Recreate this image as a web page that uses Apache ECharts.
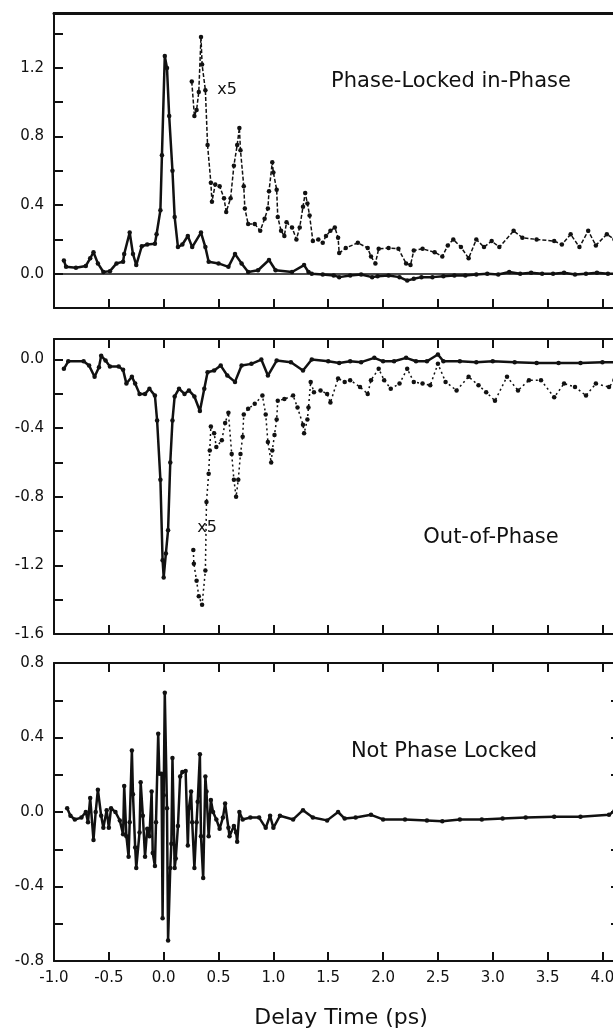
<!DOCTYPE html>
<html>
<head>
<meta charset="utf-8">
<script src="https://cdn.jsdelivr.net/npm/echarts@6/dist/echarts.min.js"></script>
<style>html,body{margin:0;padding:0;background:#fff}#c{width:613px;height:1030px}</style>
</head>
<body>
<div id="c"></div>
<script>
// ---- data (delay time ps, signal) ----
const topMain = [[-0.91,0.077],[-0.89,0.04],[-0.80,0.035],[-0.71,0.045],[-0.67,0.09],[-0.64,0.125],[-0.60,0.06],[-0.55,0.01],[-0.49,0.015],[-0.43,0.06],[-0.37,0.07],[-0.36,0.115],[-0.31,0.24],[-0.28,0.115],[-0.25,0.05],[-0.20,0.16],[-0.15,0.17],[-0.08,0.175],[-0.065,0.23],[-0.03,0.37],[-0.016,0.69],[0.01,1.27],[0.03,1.20],[0.05,0.92],[0.08,0.60],[0.10,0.33],[0.13,0.155],[0.17,0.17],[0.22,0.22],[0.26,0.155],[0.34,0.24],[0.38,0.155],[0.41,0.07],[0.50,0.06],[0.59,0.04],[0.65,0.115],[0.71,0.06],[0.77,0.01],[0.86,0.02],[0.96,0.08],[1.02,0.02],[1.17,0.01],[1.28,0.05],[1.32,0.01],[1.35,0.0],[1.45,-0.005],[1.55,-0.01],[1.6,-0.02],[1.7,-0.01],[1.8,-0.005],[1.9,-0.02],[1.95,-0.015],[2.05,-0.01],[2.15,-0.02],[2.22,-0.04],[2.28,-0.03],[2.35,-0.02],[2.45,-0.02],[2.55,-0.015],[2.65,-0.01],[2.75,-0.01],[2.85,-0.005],[2.95,0.0],[3.05,-0.005],[3.15,0.01],[3.25,0.0],[3.35,0.005],[3.45,0.0],[3.55,0.0],[3.65,0.005],[3.75,-0.005],[3.85,0.0],[3.95,0.005],[4.05,0.0],[4.16,0.0]];
const topX5 = [[0.256,1.12],[0.28,0.92],[0.30,0.955],[0.32,1.06],[0.34,1.38],[0.35,1.22],[0.38,1.07],[0.40,0.75],[0.43,0.53],[0.44,0.42],[0.47,0.52],[0.51,0.51],[0.55,0.44],[0.57,0.36],[0.61,0.44],[0.64,0.63],[0.67,0.75],[0.69,0.85],[0.70,0.72],[0.73,0.51],[0.74,0.38],[0.77,0.29],[0.83,0.29],[0.88,0.25],[0.92,0.32],[0.95,0.38],[0.96,0.48],[0.99,0.65],[1.00,0.59],[1.03,0.49],[1.04,0.33],[1.07,0.25],[1.10,0.22],[1.12,0.30],[1.17,0.27],[1.21,0.20],[1.24,0.27],[1.27,0.39],[1.29,0.47],[1.31,0.41],[1.33,0.34],[1.36,0.19],[1.41,0.20],[1.45,0.18],[1.48,0.22],[1.52,0.25],[1.56,0.27],[1.59,0.21],[1.60,0.12],[1.66,0.15],[1.77,0.18],[1.86,0.15],[1.89,0.10],[1.93,0.06],[1.96,0.145],[2.05,0.15],[2.14,0.145],[2.21,0.06],[2.25,0.05],[2.28,0.135],[2.36,0.145],[2.47,0.125],[2.54,0.10],[2.59,0.165],[2.64,0.20],[2.71,0.155],[2.78,0.09],[2.85,0.20],[2.92,0.155],[2.99,0.19],[3.06,0.155],[3.19,0.25],[3.27,0.21],[3.40,0.20],[3.56,0.19],[3.63,0.17],[3.71,0.23],[3.79,0.155],[3.87,0.25],[3.94,0.165],[4.04,0.23],[4.11,0.20]];
const midMain = [[-0.91,-0.054],[-0.87,-0.01],[-0.73,-0.01],[-0.68,-0.035],[-0.63,-0.10],[-0.59,-0.045],[-0.57,0.023],[-0.53,-0.006],[-0.49,-0.04],[-0.41,-0.04],[-0.37,-0.06],[-0.34,-0.14],[-0.29,-0.10],[-0.26,-0.14],[-0.22,-0.20],[-0.17,-0.20],[-0.13,-0.17],[-0.08,-0.21],[-0.06,-0.355],[-0.03,-0.70],[-0.01,-1.17],[0.00,-1.27],[0.02,-1.13],[0.04,-0.995],[0.06,-0.60],[0.08,-0.355],[0.10,-0.215],[0.14,-0.17],[0.19,-0.20],[0.23,-0.18],[0.28,-0.215],[0.33,-0.30],[0.37,-0.17],[0.40,-0.074],[0.46,-0.064],[0.52,-0.035],[0.58,-0.093],[0.65,-0.13],[0.71,-0.035],[0.80,-0.025],[0.89,0.0],[0.95,-0.093],[1.03,-0.006],[1.16,-0.016],[1.27,-0.064],[1.35,0.0],[1.5,-0.01],[1.6,-0.02],[1.7,-0.01],[1.8,-0.015],[1.92,0.01],[2.0,-0.01],[2.1,-0.01],[2.21,0.01],[2.3,-0.01],[2.4,-0.01],[2.5,0.03],[2.55,-0.01],[2.7,-0.01],[2.85,-0.015],[3.0,-0.01],[3.2,-0.015],[3.4,-0.02],[3.6,-0.02],[3.8,-0.02],[4.0,-0.015],[4.16,-0.015]];
const midX5 = [[0.27,-1.11],[0.275,-1.19],[0.30,-1.29],[0.32,-1.38],[0.35,-1.43],[0.38,-1.23],[0.39,-0.83],[0.41,-0.665],[0.42,-0.53],[0.43,-0.39],[0.46,-0.43],[0.48,-0.51],[0.53,-0.47],[0.56,-0.37],[0.59,-0.31],[0.62,-0.55],[0.64,-0.70],[0.66,-0.80],[0.68,-0.70],[0.70,-0.55],[0.72,-0.45],[0.73,-0.32],[0.77,-0.287],[0.83,-0.258],[0.90,-0.21],[0.93,-0.32],[0.95,-0.48],[0.98,-0.60],[0.99,-0.53],[1.01,-0.44],[1.03,-0.35],[1.04,-0.24],[1.10,-0.23],[1.18,-0.21],[1.22,-0.28],[1.27,-0.38],[1.28,-0.43],[1.31,-0.35],[1.32,-0.28],[1.34,-0.13],[1.37,-0.19],[1.43,-0.18],[1.49,-0.20],[1.52,-0.25],[1.59,-0.11],[1.65,-0.13],[1.70,-0.12],[1.79,-0.16],[1.86,-0.20],[1.89,-0.12],[1.96,-0.054],[2.01,-0.12],[2.07,-0.17],[2.15,-0.14],[2.22,-0.054],[2.28,-0.13],[2.36,-0.14],[2.43,-0.15],[2.50,-0.025],[2.57,-0.13],[2.67,-0.18],[2.78,-0.10],[2.87,-0.15],[2.94,-0.19],[3.02,-0.24],[3.13,-0.10],[3.23,-0.18],[3.33,-0.12],[3.44,-0.12],[3.56,-0.22],[3.65,-0.14],[3.75,-0.16],[3.85,-0.21],[3.94,-0.14],[4.06,-0.16],[4.11,-0.12]];
const botMain = [[-0.88,0.02],[-0.85,-0.02],[-0.81,-0.04],[-0.75,-0.03],[-0.71,0.0],[-0.69,-0.055],[-0.67,0.075],[-0.64,-0.15],[-0.62,0.0],[-0.60,0.12],[-0.57,-0.02],[-0.55,-0.085],[-0.52,0.01],[-0.50,-0.085],[-0.48,0.02],[-0.44,0.0],[-0.40,-0.045],[-0.37,-0.12],[-0.36,0.14],[-0.34,-0.13],[-0.32,-0.24],[-0.31,-0.055],[-0.29,0.33],[-0.28,0.095],[-0.26,-0.19],[-0.25,-0.30],[-0.22,-0.11],[-0.21,0.16],[-0.19,-0.02],[-0.17,-0.24],[-0.15,-0.09],[-0.13,-0.13],[-0.11,0.11],[-0.10,-0.22],[-0.08,-0.29],[-0.07,-0.055],[-0.05,0.42],[-0.04,0.205],[-0.02,0.205],[-0.01,-0.57],[0.00,0.09],[0.01,0.64],[0.03,0.02],[0.04,-0.69],[0.06,-0.30],[0.07,-0.17],[0.08,0.29],[0.10,-0.30],[0.11,-0.25],[0.13,-0.075],[0.15,0.19],[0.17,0.215],[0.20,0.22],[0.22,-0.18],[0.23,0.02],[0.25,0.11],[0.26,-0.055],[0.28,-0.30],[0.30,-0.055],[0.31,0.055],[0.33,0.31],[0.34,-0.13],[0.36,-0.355],[0.38,0.19],[0.39,0.11],[0.41,-0.13],[0.43,0.065],[0.45,0.0],[0.48,-0.04],[0.51,-0.09],[0.54,-0.03],[0.56,0.045],[0.59,-0.085],[0.60,-0.13],[0.64,-0.075],[0.66,-0.11],[0.67,-0.16],[0.69,0.0],[0.72,-0.04],[0.79,-0.03],[0.87,-0.03],[0.93,-0.085],[0.97,-0.02],[1.00,-0.085],[1.06,-0.02],[1.18,-0.04],[1.27,0.01],[1.36,-0.03],[1.49,-0.045],[1.59,0.0],[1.65,-0.035],[1.75,-0.03],[1.89,-0.015],[2.00,-0.04],[2.2,-0.04],[2.4,-0.045],[2.54,-0.05],[2.7,-0.04],[2.9,-0.04],[3.09,-0.035],[3.3,-0.03],[3.56,-0.025],[3.8,-0.025],[4.06,-0.015],[4.11,0.005]];
const xTicks = { min: -1.0, max: 4.16, step: 0.5 };
const panelY = [{min:-0.2,max:1.52},{min:-1.6,max:0.12},{min:-0.8,max:0.8}];
const labelStep = 0.4, tickStep = 0.2;

const FONT = 'DejaVu Sans';
const INK = '#111';
const grids = [
  {left:54, top:13, width:566, height:295, outerBoundsMode:'none', containLabel:false},
  {left:54, top:339, width:566, height:295, outerBoundsMode:'none', containLabel:false},
  {left:54, top:663, width:566, height:298, outerBoundsMode:'none', containLabel:false}
];
function isMult(v, s){ return Math.abs(v/s - Math.round(v/s)) < 1e-6; }
const xAxes = [];
for (let i=0;i<3;i++){
  xAxes.push({type:'value', gridIndex:i, position:'bottom', min:xTicks.min, max:xTicks.max, interval:xTicks.step,
    axisLine:{show:true, onZero:false, lineStyle:{color:INK, width:2}},
    axisTick:{show:true, inside:true, length:9, lineStyle:{color:INK, width:2}},
    axisLabel:{show:i===2, margin:10, color:INK, fontFamily:FONT, fontSize:15, hideOverlap:false,
      formatter:v=> isMult(v,xTicks.step)? v.toFixed(1):''},
    splitLine:{show:false}});
}
for (let i=0;i<3;i++){
  xAxes.push({type:'value', gridIndex:i, position:'top', min:xTicks.min, max:xTicks.max, interval:xTicks.step,
    axisLine:{show:true, onZero:false, lineStyle:{color:INK, width:i===0?3:2}},
    axisTick:{show:i!==0, inside:true, length:9, lineStyle:{color:INK, width:2}},
    axisLabel:{show:false}, splitLine:{show:false}});
}
const yAxes = [];
for (let i=0;i<3;i++){
  yAxes.push({type:'value', gridIndex:i, position:'left', min:panelY[i].min, max:panelY[i].max, interval:tickStep,
    axisLine:{show:true, onZero:false, lineStyle:{color:INK, width:2}},
    axisTick:{show:true, inside:true, length:9, lineStyle:{color:INK, width:2}},
    axisLabel:{show:true, margin:10, color:INK, fontFamily:FONT, fontSize:15,
      formatter:v=> isMult(v,labelStep)? (Math.abs(v)<1e-9?'0.0':v.toFixed(1)):''},
    splitLine:{show:false}});
}
yAxes.push({type:'value', gridIndex:2, position:'right', min:panelY[2].min, max:panelY[2].max, interval:tickStep,
  axisLine:{show:true, onZero:false, lineStyle:{color:INK, width:2}},
  axisTick:{show:true, inside:true, length:9, lineStyle:{color:INK, width:2}},
  axisLabel:{show:false}, splitLine:{show:false}});

function mainSeries(data, gi){
  return {type:'line', xAxisIndex:gi, yAxisIndex:gi, data:data, symbol:'circle', symbolSize:4.5, showSymbol:true,
    itemStyle:{color:INK}, lineStyle:{color:INK, width:2.5}, silent:true, z:3};
}
function x5Series(data, gi, dash){
  return {type:'line', xAxisIndex:gi, yAxisIndex:gi, data:data, symbol:'circle', symbolSize:4.5, showSymbol:true,
    itemStyle:{color:INK}, lineStyle:{color:INK, width:1.5, type:dash}, silent:true, z:2};
}
const s0 = mainSeries(topMain,0);
s0.markLine = {silent:true, symbol:'none', label:{show:false}, lineStyle:{color:INK, width:1.5, type:'solid'}, data:[{yAxis:0}]};

const chart = echarts.init(document.getElementById('c'), null, {renderer:'canvas'});
chart.setOption({
  animation:false,
  backgroundColor:'#fff',
  grid: grids,
  xAxis: xAxes,
  yAxis: yAxes,
  series: [s0, x5Series(topX5,0,[4,2]), mainSeries(midMain,1), x5Series(midX5,1,[2,3]), mainSeries(botMain,2)],
  graphic: [
    {type:'text', style:{text:'Phase-Locked in-Phase', x:451, y:82, align:'center', verticalAlign:'middle', fontFamily:FONT, fontSize:21, fill:INK}},
    {type:'text', style:{text:'x5', x:227, y:90, align:'center', verticalAlign:'middle', fontFamily:FONT, fontSize:16, fill:INK}},
    {type:'text', style:{text:'x5', x:207, y:528, align:'center', verticalAlign:'middle', fontFamily:FONT, fontSize:16, fill:INK}},
    {type:'text', style:{text:'Out-of-Phase', x:491, y:538, align:'center', verticalAlign:'middle', fontFamily:FONT, fontSize:21, fill:INK}},
    {type:'text', style:{text:'Not Phase Locked', x:444, y:752, align:'center', verticalAlign:'middle', fontFamily:FONT, fontSize:21, fill:INK}},
    {type:'text', style:{text:'Delay Time (ps)', x:341, y:1018, align:'center', verticalAlign:'middle', fontFamily:FONT, fontSize:22, fill:INK}}
  ]
});
</script>
</body>
</html>
